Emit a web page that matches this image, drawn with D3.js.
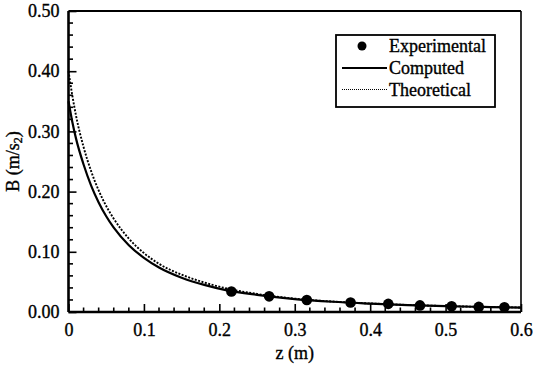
<!DOCTYPE html>
<html>
<head>
<meta charset="utf-8">
<script src="https://cdn.jsdelivr.net/npm/d3@7"></script>
<style>
  html, body { margin: 0; padding: 0; background: #fff; }
  svg { display: block; }
  svg text { font-family: "Liberation Serif", "Times New Roman", serif !important; fill: #000; stroke: #000; stroke-width: 0.35px; }
</style>
</head>
<body>
<svg id="chart" width="533" height="373"></svg>
<script>
// Position along the axis (m)
const zComputed = [0, 0.005, 0.01, 0.02, 0.03, 0.04, 0.05, 0.06, 0.08, 0.10, 0.12, 0.15, 0.18, 0.21, 0.25, 0.30, 0.35, 0.40, 0.45, 0.50, 0.55, 0.60];
// Computed B (m/s2)
const bComputed = [0.350, 0.316, 0.288, 0.245, 0.210, 0.182, 0.159, 0.140, 0.111, 0.090, 0.074, 0.057, 0.045, 0.036, 0.0285, 0.0215, 0.0170, 0.0140, 0.0115, 0.0097, 0.0084, 0.0074];

const zTheoretical = [0, 0.005, 0.01, 0.02, 0.03, 0.04, 0.05, 0.06, 0.08, 0.10, 0.12, 0.15, 0.18, 0.21, 0.25, 0.30, 0.35, 0.40, 0.45, 0.50, 0.55, 0.60];
// Theoretical B (m/s2)
const bTheoretical = [0.400, 0.360, 0.326, 0.274, 0.234, 0.202, 0.176, 0.155, 0.122, 0.098, 0.080, 0.062, 0.049, 0.039, 0.0300, 0.0222, 0.0174, 0.0142, 0.0117, 0.0099, 0.0085, 0.0075];

// Experimental measurements
const zExperimental = [0.216, 0.266, 0.316, 0.374, 0.424, 0.466, 0.508, 0.544, 0.578];
const bExperimental = [0.034, 0.026, 0.020, 0.0158, 0.0135, 0.0110, 0.0096, 0.0085, 0.0078];

// Axis ticks
const xTicks = [0, 0.1, 0.2, 0.3, 0.4, 0.5, 0.6];
const xTickLabels = ["0", "0.1", "0.2", "0.3", "0.4", "0.5", "0.6"];
const yTicks = [0, 0.1, 0.2, 0.3, 0.4, 0.5];
const yTickLabels = ["0.00", "0.10", "0.20", "0.30", "0.40", "0.50"];

const legendLabels = ["Experimental", "Computed", "Theoretical"];

const svg = d3.select("#chart");
const m = { left: 68.5, top: 11, right: 521, bottom: 312 };

const x = d3.scaleLinear().domain([0, 0.6]).range([m.left, m.right]);
const y = d3.scaleLinear().domain([0, 0.5]).range([m.bottom, m.top]);

const xMinor = d3.range(0, 0.6001, 0.02).filter(v => Math.abs(v * 10 - Math.round(v * 10)) > 1e-6);
const yMinor = d3.range(0, 0.5001, 0.02).filter(v => Math.abs(v * 10 - Math.round(v * 10)) > 1e-6);

// Plot frame
svg.append("line").attr("x1", m.left).attr("x2", m.right).attr("y1", m.top).attr("y2", m.top)
  .attr("stroke", "#000").attr("stroke-width", 2);
svg.append("line").attr("x1", m.right).attr("x2", m.right).attr("y1", m.top).attr("y2", m.bottom)
  .attr("stroke", "#000").attr("stroke-width", 1.6);

// Bottom axis: ticks pointing inward
const xAxis = d3.axisBottom(x).tickValues(xTicks).tickSize(-8).tickPadding(18)
  .tickFormat((d, i) => xTickLabels[i]);
const gx = svg.append("g").attr("transform", `translate(0,${m.bottom})`).call(xAxis);
gx.attr("font-family", null);
gx.select(".domain").attr("stroke-width", 2.6).attr("d", `M${m.left},0H${m.right}`);
gx.selectAll(".tick line").attr("stroke-width", 1.6);
gx.selectAll(".tick text").attr("font-size", 18).attr("dy", "0.35em");
gx.selectAll(".minor").data(xMinor).enter().append("line")
  .attr("x1", d => x(d)).attr("x2", d => x(d)).attr("y1", 0).attr("y2", -4.5)
  .attr("stroke", "#000").attr("stroke-width", 1.6);

// Left axis
const yAxis = d3.axisLeft(y).tickValues(yTicks).tickSize(-8).tickPadding(9)
  .tickFormat((d, i) => yTickLabels[i]);
const gy = svg.append("g").attr("transform", `translate(${m.left},0)`).call(yAxis);
gy.attr("font-family", null);
gy.select(".domain").attr("stroke-width", 2.6).attr("d", `M0,${m.bottom}V${m.top}`);
gy.selectAll(".tick line").attr("stroke-width", 1.6);
gy.selectAll(".tick text").attr("font-size", 18);
gy.selectAll(".minor").data(yMinor).enter().append("line")
  .attr("x1", 0).attr("x2", 4.5).attr("y1", d => y(d)).attr("y2", d => y(d))
  .attr("stroke", "#000").attr("stroke-width", 1.6);

// Axis titles
svg.append("text").attr("x", (m.left + m.right) / 2).attr("y", 359)
  .attr("text-anchor", "middle").attr("font-size", 18).text("z (m)");
const yTitle = svg.append("text")
  .attr("transform", `translate(19,${(m.top + m.bottom) / 2}) rotate(-90)`)
  .attr("text-anchor", "middle").attr("font-size", 18);
yTitle.append("tspan").text("B (m/s");
yTitle.append("tspan").attr("font-size", 12).attr("dy", 3).text("2");
yTitle.append("tspan").attr("dy", -3).text(")");

// Curves
const line = d3.line().x(d => x(d[0])).y(d => y(d[1])).curve(d3.curveMonotoneX);
svg.append("path").datum(d3.zip(zTheoretical, bTheoretical))
  .attr("d", line).attr("fill", "none").attr("stroke", "#000")
  .attr("stroke-width", 1.9).attr("stroke-dasharray", "2,1.5");
svg.append("path").datum(d3.zip(zComputed, bComputed))
  .attr("d", line).attr("fill", "none").attr("stroke", "#000").attr("stroke-width", 2.2);

// Experimental points
svg.append("g").selectAll("circle").data(d3.zip(zExperimental, bExperimental)).enter()
  .append("circle").attr("cx", d => x(d[0])).attr("cy", d => y(d[1])).attr("r", 5.3).attr("fill", "#000");

// Legend
const lg = svg.append("g");
lg.append("rect").attr("x", 336).attr("y", 35).attr("width", 159).attr("height", 72)
  .attr("fill", "#fff").attr("stroke", "#000").attr("stroke-width", 1.8);
const rowY = [46, 68, 89.5];
lg.append("circle").attr("cx", 362).attr("cy", rowY[0]).attr("r", 4.5).attr("fill", "#000");
lg.append("line").attr("x1", 342).attr("x2", 387).attr("y1", rowY[1]).attr("y2", rowY[1])
  .attr("stroke", "#000").attr("stroke-width", 2.2);
lg.append("line").attr("x1", 342).attr("x2", 387).attr("y1", rowY[2]).attr("y2", rowY[2])
  .attr("stroke", "#000").attr("stroke-width", 1).attr("stroke-dasharray", "1,1");
lg.selectAll("text.lab").data(legendLabels).enter().append("text")
  .attr("x", 389).attr("y", (d, i) => rowY[i]).attr("dy", "0.35em")
  .attr("font-size", 18).text(d => d);
</script>
</body>
</html>
